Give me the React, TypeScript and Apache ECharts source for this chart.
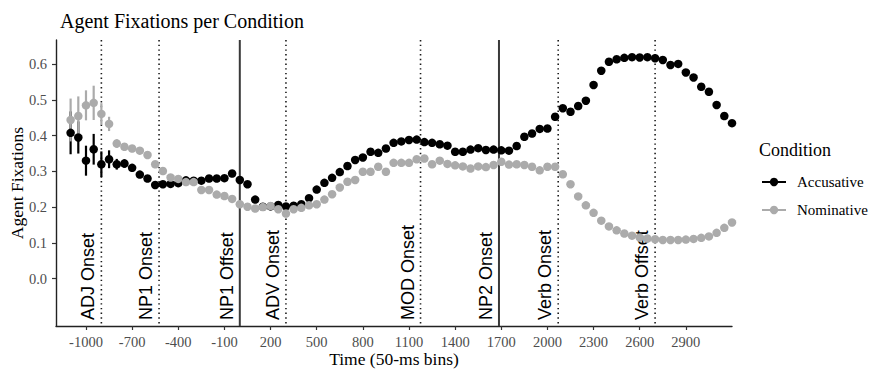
import React, { useEffect, useRef } from 'react';
import * as echarts from 'echarts';

// Time bins (ms)
const times = [
  -1100, -1050, -1000, -950, -900, -850, -800, -750, -700, -650,
  -600, -550, -500, -450, -400, -350, -300, -250, -200, -150,
  -100, -50, 0, 50, 100, 150, 200, 250, 300, 350,
  400, 450, 500, 550, 600, 650, 700, 750, 800, 850,
  900, 950, 1000, 1050, 1100, 1150, 1200, 1250, 1300, 1350,
  1400, 1450, 1500, 1550, 1600, 1650, 1700, 1750, 1800, 1850,
  1900, 1950, 2000, 2050, 2100, 2150, 2200, 2250, 2300, 2350,
  2400, 2450, 2500, 2550, 2600, 2650, 2700, 2750, 2800, 2850,
  2900, 2950, 3000, 3050, 3100, 3150, 3200,
];

const accusative = [
  0.408, 0.395, 0.330, 0.362, 0.320, 0.334, 0.320, 0.322, 0.310, 0.291,
  0.280, 0.262, 0.264, 0.265, 0.267, 0.275, 0.274, 0.274, 0.280, 0.280,
  0.281, 0.294, 0.276, 0.264, 0.221, 0.201, 0.202, 0.206, 0.202, 0.204,
  0.208, 0.225, 0.249, 0.268, 0.282, 0.298, 0.315, 0.332, 0.339, 0.355,
  0.352, 0.364, 0.380, 0.384, 0.388, 0.389, 0.382, 0.380, 0.376, 0.372,
  0.355, 0.355, 0.361, 0.365, 0.360, 0.361, 0.359, 0.358, 0.371, 0.397,
  0.406, 0.419, 0.420, 0.453, 0.477, 0.467, 0.483, 0.498, 0.542, 0.582,
  0.607, 0.614, 0.618, 0.620, 0.619, 0.620, 0.617, 0.612, 0.598, 0.601,
  0.577, 0.563, 0.537, 0.523, 0.486, 0.455, 0.435,
];

const nominative = [
  0.444, 0.455, 0.485, 0.492, 0.461, 0.433, 0.378, 0.369, 0.364, 0.358,
  0.346, 0.320, 0.301, 0.283, 0.279, 0.270, 0.270, 0.248, 0.248, 0.235,
  0.231, 0.223, 0.208, 0.201, 0.196, 0.200, 0.203, 0.194, 0.182, 0.194,
  0.198, 0.205, 0.208, 0.221, 0.236, 0.255, 0.271, 0.276, 0.299, 0.299,
  0.313, 0.299, 0.324, 0.324, 0.324, 0.334, 0.336, 0.320, 0.330, 0.321,
  0.317, 0.314, 0.308, 0.314, 0.312, 0.318, 0.327, 0.319, 0.320, 0.318,
  0.313, 0.303, 0.313, 0.313, 0.292, 0.264, 0.230, 0.205, 0.184, 0.162,
  0.146, 0.135, 0.126, 0.120, 0.115, 0.112, 0.110, 0.108, 0.108, 0.108,
  0.109, 0.111, 0.114, 0.118, 0.128, 0.142, 0.157,
];

// Standard-error half-widths (visible ones only, first bins)
const accusativeErr = [0.060, 0.045, 0.042, 0.043, 0.036, 0.025, 0.015, 0.012];
const nominativeErr = [0.060, 0.055, 0.042, 0.048, 0.030, 0.020, 0.012, 0.010];

// Event markers
const eventNames = ['ADJ Onset', 'NP1 Onset', 'NP1 Offset', 'ADV Onset', 'MOD Onset', 'NP2 Onset', 'Verb Onset', 'Verb Offset'];
const eventTimes = [-900, -525, 0, 300, 1175, 1685, 2070, 2700];
const eventSolid = [0, 0, 1, 0, 0, 1, 0, 0];

const xTicks = [-1000, -700, -400, -100, 200, 500, 800, 1100, 1400, 1700, 2000, 2300, 2600, 2900];
const yTicks = [0, 0.1, 0.2, 0.3, 0.4, 0.5, 0.6];

const SERIF = 'Liberation Serif';
const SANS = 'Liberation Sans';
const BLACK = '#000000';
const GREY = '#ababab';

export default function App() {
  const ref = useRef<HTMLDivElement>(null);

  useEffect(() => {
    if (!ref.current) return;
    const chart = echarts.init(ref.current, undefined, { renderer: 'svg' });

    const errData = (vals: number[], errs: number[]) =>
      errs.map((e, i) => [times[i], vals[i] - e, vals[i] + e]);

    const errSeries = (name: string, vals: number[], errs: number[], color: string) => ({
      type: 'custom',
      name: name + ' SE',
      data: errData(vals, errs),
      encode: { x: 0, y: [1, 2] },
      silent: true,
      renderItem: (params: any, api: any) => {
        const p1 = api.coord([api.value(0), api.value(1)]);
        const p2 = api.coord([api.value(0), api.value(2)]);
        return {
          type: 'line',
          shape: { x1: p1[0], y1: p1[1], x2: p2[0], y2: p2[1] },
          style: { stroke: color, lineWidth: 2.2 },
        };
      },
    });

    const option: any = {
      animation: false,
      backgroundColor: '#ffffff',
      title: {
        text: 'Agent Fixations per Condition',
        left: 55,
        top: 6,
        textStyle: { fontFamily: SERIF, fontSize: 20, fontWeight: 'normal', color: '#000' },
      },
      grid: { left: 56, right: 141, top: 40, bottom: 45, outerBoundsMode: 'none', containLabel: false },
      xAxis: {
        type: 'value',
        min: -1195,
        max: 3200,
        name: 'Time (50-ms bins)',
        nameLocation: 'middle',
        nameGap: 24,
        nameMoveOverlap: false,
        nameTextStyle: { fontFamily: SERIF, fontSize: 17.5, color: '#000' },
        axisLine: { show: true, onZero: false, lineStyle: { color: '#222', width: 1.4 } },
        axisTick: { show: true, length: 4, lineStyle: { color: '#333', width: 1.2 }, customValues: xTicks },
        axisLabel: {
          customValues: xTicks,
          color: '#4d4d4d',
          fontFamily: SERIF,
          fontSize: 14.5,
          margin: 8,
          formatter: (v: number) => String(v),
        },
        splitLine: { show: false },
      },
      yAxis: {
        type: 'value',
        min: -0.133,
        max: 0.668,
        name: 'Agent Fixations',
        nameLocation: 'middle',
        nameGap: 30,
        nameRotate: 90,
        nameMoveOverlap: false,
        nameTextStyle: { fontFamily: SERIF, fontSize: 17.5, color: '#000' },
        axisLine: { show: true, onZero: false, lineStyle: { color: '#222', width: 1.4 } },
        axisTick: { show: true, length: 4, lineStyle: { color: '#333', width: 1.2 }, customValues: yTicks },
        axisLabel: {
          customValues: yTicks,
          color: '#4d4d4d',
          fontFamily: SERIF,
          fontSize: 14.5,
          margin: 9,
          formatter: (v: number) => v.toFixed(1),
        },
        splitLine: { show: false },
      },
      series: [
        {
          type: 'custom',
          name: 'events',
          silent: true,
          data: eventTimes.map((t, i) => [t, 0, i]),
          encode: { x: 0, y: 1 },
          renderItem: (params: any, api: any) => {
            const idx = api.value(2);
            const x = api.coord([api.value(0), 0])[0];
            const cs = params.coordSys;
            const top = cs.y;
            const bottom = cs.y + cs.height;
            const solid = eventSolid[idx] === 1;
            return {
              type: 'group',
              children: [
                {
                  type: 'line',
                  shape: { x1: x, y1: top, x2: x, y2: bottom },
                  style: solid
                    ? { stroke: '#3a3a3a', lineWidth: 2 }
                    : { stroke: '#1a1a1a', lineWidth: 1.6, lineDash: [1.4, 3.3] },
                },
                {
                  type: 'text',
                  x: x - 4,
                  y: bottom - 6,
                  rotation: Math.PI / 2,
                  style: {
                    text: eventNames[idx],
                    fontFamily: SANS,
                    fontSize: 18,
                    fill: '#000',
                    align: 'left',
                    verticalAlign: 'bottom',
                  },
                },
              ],
            };
          },
        },
        errSeries('Accusative', accusative, accusativeErr, BLACK),
        {
          type: 'scatter',
          name: 'Accusative',
          data: times.map((t, i) => [t, accusative[i]]),
          symbol: 'circle',
          symbolSize: 8.5,
          itemStyle: { color: BLACK, opacity: 1 },
          silent: true,
        },
        errSeries('Nominative', nominative, nominativeErr, GREY),
        {
          type: 'scatter',
          name: 'Nominative',
          data: times.map((t, i) => [t, nominative[i]]),
          symbol: 'circle',
          symbolSize: 8.5,
          itemStyle: { color: GREY, opacity: 1 },
          silent: true,
        },
      ],
      graphic: [
        {
          type: 'text',
          left: 759,
          top: 141,
          style: { text: 'Condition', fontFamily: SERIF, fontSize: 18, fill: '#000' },
        },
        { type: 'line', shape: { x1: 762, y1: 182, x2: 786, y2: 182 }, style: { stroke: BLACK, lineWidth: 2 } },
        { type: 'circle', shape: { cx: 774, cy: 182, r: 4.2 }, style: { fill: BLACK } },
        {
          type: 'text',
          x: 797,
          y: 182,
          style: { text: 'Accusative', fontFamily: SERIF, fontSize: 15, fill: '#000', verticalAlign: 'middle' },
        },
        { type: 'line', shape: { x1: 762, y1: 210, x2: 786, y2: 210 }, style: { stroke: GREY, lineWidth: 2 } },
        { type: 'circle', shape: { cx: 774, cy: 210, r: 4.2 }, style: { fill: GREY } },
        {
          type: 'text',
          x: 797,
          y: 210,
          style: { text: 'Nominative', fontFamily: SERIF, fontSize: 15, fill: '#000', verticalAlign: 'middle' },
        },
      ],
    };

    chart.setOption(option);
    return () => chart.dispose();
  }, []);

  return (
    <div
      ref={ref}
      style={{ position: 'absolute', left: 0, top: 0, width: 873, height: 371, background: '#fff' }}
    />
  );
}
